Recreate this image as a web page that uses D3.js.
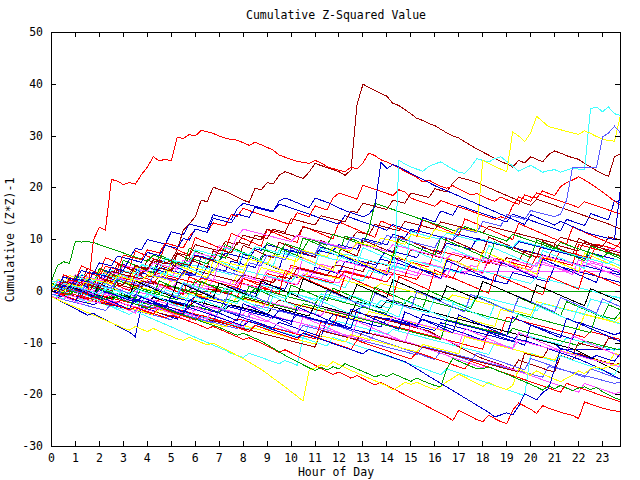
<!DOCTYPE html>
<html><head><meta charset="utf-8">
<script src="https://cdn.jsdelivr.net/npm/d3@7"></script>
<style>html,body{margin:0;padding:0;background:#fff;}svg{display:block;}</style>
</head><body>
<svg id="chart" width="640" height="480"></svg>
<script>
const chartTitle = "Cumulative Z-Squared Value";
const xLabel = "Hour of Day";
const yLabel = "Cumulative (Z*Z)-1";
const xTicks = [0,1,2,3,4,5,6,7,8,9,10,11,12,13,14,15,16,17,18,19,20,21,22,23];
const yTicks = [-30,-20,-10,0,10,20,30,40,50];
const hours = d3.range(96).map(i => i * 0.25);

const s01 = [-0.5,-0.8,-1.1,0.2,-0.1,-0.4,-0.7,-1.0,-1.3,-0.2,-0.5,-0.8,-1.1,-1.4,-1.7,-2.0,-2.3,-1.0,-1.3,-1.6,-1.9,-2.2,-2.5,-2.8,-3.0,-3.3,-1.0,-1.3,-1.6,-1.9,0.8,0.5,0.2,-0.1,-0.4,1.6,1.3,1.0,0.7,0.4,3.0,2.7,2.4,2.1,4.6,4.3,4.0,3.7,3.4,5.8,5.5,5.2,4.9,4.6,4.3,6.5,8.0,7.7,7.4,7.1,6.8,6.5,8.4,8.1,7.8,7.5,9.3,9.0,8.7,8.4,8.1,10.2,10.0,9.7,9.4,9.1,8.8,8.5,8.2,7.9,7.6,7.3,7.0,6.7,6.4,6.1,5.8,5.5,5.2,4.9,4.6,4.3,4.0,3.7,3.4,3.1];
const s02 = [0.0,-0.3,-0.6,-0.9,0.3,0.0,-0.3,-0.6,-0.9,-1.2,-1.5,-0.6,-0.9,-1.2,-1.5,-1.8,-2.1,-2.4,-1.6,-1.9,-2.2,-2.5,-2.8,-3.1,-0.8,-1.1,-1.4,0.4,0.1,-0.2,-0.5,1.8,1.5,1.2,0.9,0.6,0.3,2.4,2.1,1.8,1.5,1.2,3.1,2.8,2.5,2.2,1.9,1.6,4.0,3.7,3.4,3.1,2.8,2.5,4.4,4.1,3.8,3.5,3.2,2.9,2.6,2.3,4.0,3.7,3.4,3.1,2.8,2.5,4.8,4.5,4.2,3.9,3.6,6.1,5.8,5.5,5.2,4.9,4.6,4.3,7.0,6.7,6.4,6.1,5.8,7.9,7.6,7.3,7.0,6.7,6.4,9.1,8.8,8.5,8.2,9.5];
const s03 = [1.0,0.7,0.4,0.1,-0.2,-0.5,0.9,0.6,0.3,0.0,-0.3,-0.6,-0.9,-1.2,0.5,0.2,-0.1,-0.4,-0.7,-1.0,-1.3,-1.6,0.3,0.0,0,0,0,0,0,0,0,0,0,0,0,0,0,0,0,0,0,0,0,0,0,0,0,0,0,0,0,0,0,0,0,0,0,0,0,0,0,0,0,0,0,0,0,0,0,0,0,0,0,0,0,0,0,0,0,0,0,0,0,0,0,0,0,0,0,0,0,0,0,0,0,0];
const s04 = [0.5,0.2,-0.1,-0.4,-0.7,0.8,0.5,0.2,-0.1,-0.4,-0.7,-1.0,0.6,0.3,0.0,-0.3,-0.6,-0.9,0.9,0.6,0.3,0.0,-0.3,-0.6,1.5,1.2,0.9,0.6,0.3,0.0,2.0,1.7,1.4,1.1,0.8,0.5,2.8,2.5,2.2,1.9,1.6,1.3,3.4,3.1,2.8,2.5,2.2,1.9,1.6,4.0,3.7,3.4,3.1,2.8,2.5,2.2,4.5,4.2,3.9,3.6,3.3,3.0,5.6,5.3,5.0,4.7,4.4,4.1,3.8,3.9,3.9,3.9,3.9,3.9,3.9,3.9,3.9,3.9,3.9,3.9,3.9,3.9,3.9,3.9,3.9,3.9,3.9,3.9,3.9,3.9,3.9,3.9,3.9,3.9,3.9,3.9];
const s05 = [-0.5,-0.8,-1.1,-1.4,-1.7,-0.5,-0.8,-1.1,-1.4,-1.7,-2.0,-2.3,-1.0,-1.3,-1.6,-1.9,-2.2,-2.5,-2.8,-3.1,-1.8,-2.1,-2.4,-2.7,-3.0,-3.3,-3.6,-3.9,-4.2,-2.8,-3.1,-3.4,-3.7,-4.0,-4.3,-4.6,-4.9,-5.2,-3.6,-3.9,-4.2,-4.5,-4.8,-5.1,-5.4,-5.7,-6.0,-4.5,-4.8,-5.1,-5.4,-5.7,-6.0,-6.3,-6.6,-6.9,-5.2,-5.5,-5.8,-6.1,-6.4,-6.7,-7.0,-7.3,-7.6,-6.1,-6.4,-6.7,-7.0,-7.3,-7.6,-7.9,-8.2,-8.5,-8.8,-9.1,-9.4,-9.7,-8.2,-8.5,-8.8,-9.1,-9.4,-9.7,-10.0,-11.2,-11.2,-11.2,-11.2,-11.2,-11.2,-11.2,-11.2,-11.2,-11.2,-11.2];
const s06 = [-1.0,-1.3,-1.6,-1.9,-2.2,-1.4,-1.7,-2.0,-2.3,-2.6,-2.9,-3.2,-3.5,-2.7,-3.0,-3.3,-3.6,-3.9,-4.2,-4.5,-4.8,-5.1,-4.0,-4.3,-4.6,-4.9,-5.2,-5.5,-5.8,-6.1,-6.4,-6.7,-7.0,-7.3,-6.6,-6.9,-7.2,-7.5,-7.8,-8.1,-8.4,-8.7,-9.0,-6.5,-6.8,-7.1,-7.4,-5.6,-5.9,-6.2,-6.5,-6.8,-7.1,-7.4,-7.7,-8.0,-8.3,-7.4,-7.7,-8.0,-8.3,-8.6,-8.9,-9.2,-9.5,-9.8,-10.1,-10.4,-10.7,-11.0,-11.3,-11.6,-11.9,-12.2,-10.0,-10.3,-10.6,-10.9,-8.2,-8.5,-8.8,-9.1,-9.4,-9.7,-10.0,-10.3,-9.0,-9.3,-9.6,-9.9,-10.2,-10.5,-10.8,-11.1,-11.4,-11.0];
const s07 = [2.0,1.7,1.4,1.1,0.8,0.5,0.2,1.5,1.2,0.9,0.6,0.3,0.0,-0.3,1.0,0.7,0.4,0.1,-0.2,-0.5,-0.8,-1.1,-1.4,-0.3,-0.6,-0.9,-1.2,-1.5,-1.8,-2.1,-2.4,-1.2,-1.5,-1.8,-2.1,-2.4,-2.7,-3.0,-3.3,-3.6,-3.9,-2.5,-2.8,-3.1,-3.4,-3.7,-4.0,-4.3,-4.6,-4.9,-5.2,-5.5,-5.8,-3.9,-4.2,-4.5,-4.8,-5.1,-5.4,-5.7,-6.0,-6.3,-6.6,-6.9,-7.2,-7.5,-7.8,-8.1,-5.0,-5.3,-5.6,-5.9,-6.2,-6.5,-6.8,-3.5,-3.8,-4.1,-4.4,-4.7,-5.0,-5.3,-5.6,-5.9,-6.2,-6.5,-6.8,-7.1,-7.4,-4.5,-4.8,-5.1,-5.4,-5.7,-6.0,-5.0];
const s08 = [-1.0,-1.3,-1.6,-1.9,-2.2,-2.5,-2.8,-3.1,-3.4,-3.7,-2.5,-2.8,-3.1,-3.4,-3.7,-4.0,-4.3,-4.6,-4.9,-5.2,-5.5,-4.2,-4.5,-4.8,-5.1,-5.4,-5.7,-6.0,-6.3,-6.6,-6.9,-7.2,-5.5,-5.8,-6.1,-6.4,-6.7,-7.0,-7.3,-7.6,-7.9,-8.2,-6.6,-6.9,-7.2,-7.5,-7.8,-8.1,-8.4,-8.7,-9.0,-9.3,-9.6,-9.9,-10.2,-10.5,-10.8,-11.1,-11.4,-11.7,-12.0,-12.3,-10.6,-10.9,-11.2,-11.5,-11.8,-12.1,-12.4,-12.7,-13.0,-13.3,-13.6,-13.9,-14.2,-14.5,-14.8,-15.1,-15.4,-15.7,-16.0,-16.3,-16.6,-14.5,-14.8,-15.1,-15.4,-15.7,-16.0,-16.3,-16.6,-16.9,-17.2,-17.5,-17.8,-17.5];
const s09 = [1.0,0.7,0.4,0.1,1.6,1.3,1.0,0.7,0.4,0.1,2.3,2.0,1.7,1.4,1.1,0.8,2.0,1.7,1.4,1.1,0.8,0.5,0.2,-0.1,-0.4,-0.7,0.5,0.2,-0.1,-0.4,-0.7,-1.0,-1.3,-1.6,-1.9,-2.2,-2.5,-2.8,-1.7,-2.0,-2.3,-2.6,-2.9,-3.2,-3.5,-3.8,-4.1,-4.4,-4.7,-5.0,-3.8,-4.1,-4.4,-4.7,-5.0,-5.3,-5.6,-5.9,-6.2,-6.5,-6.8,-7.1,-7.4,-7.7,-8.3,-8.9,-9.5,-10.1,-10.7,-11.3,-11.9,-12.5,-13.0,-13.4,-13.8,-14.2,-14.6,-15.0,-13.3,-13.7,-14.1,-14.5,-14.9,-15.3,-15.6,-12.4,-12.8,-13.2,-12.0,-12.4,-12.8,-13.2,-13.5,-13.8,-14.1,-14.0];
const s10 = [0.0,-0.3,-0.6,-0.9,0.4,0.1,-0.2,-0.5,-0.8,-1.1,-1.4,-0.6,-0.9,-1.2,-1.5,-1.8,-2.1,-1.2,-1.5,-1.8,-2.1,-2.4,-2.7,-3.0,-1.9,-2.2,-2.5,-2.8,-3.1,-3.4,-2.6,-2.9,-3.2,-3.5,-3.8,-4.1,-4.4,-3.0,-3.3,-3.6,-3.9,-4.2,-4.5,-4.8,-2.6,-2.9,-3.2,-3.5,-3.8,-4.1,-4.4,-2.0,-2.3,-2.6,-2.9,-3.2,-1.8,-2.1,-2.4,-2.7,-3.0,-3.3,-3.6,-3.9,-4.2,-4.5,-4.8,-5.1,-5.4,-5.7,-6.0,-6.3,-6.6,-6.9,-7.2,-7.5,-7.8,-8.1,-8.4,-8.7,-9.0,-9.3,-9.6,-9.9,-10.2,-10.5,-10.8,-11.1,-11.6,-12.2,-12.8,-13.4,-14.0,-14.6,-15.2,-15.8];
const s11 = [0.5,0.2,-0.1,-0.4,-0.7,-1.0,-1.3,-0.4,-0.7,-1.0,-1.3,-1.6,-1.9,-2.2,-2.5,-2.8,-3.1,-3.4,-2.6,-2.9,-3.2,-3.5,-3.8,-4.1,-4.4,-4.7,-5.0,-5.3,-5.6,-5.9,-6.2,-5.3,-5.6,-5.9,-6.2,-6.5,-6.8,-7.1,-7.4,-7.7,-8.0,-8.3,-8.6,-8.9,-9.2,-6.0,-6.3,-6.6,-4.0,-4.3,-4.6,-4.9,-5.2,-5.5,-5.8,-6.1,-6.4,-6.7,-7.0,-7.3,-7.6,-7.9,-8.2,-8.5,-8.8,-9.1,-9.4,-9.7,-10.0,-10.3,-10.6,-10.9,-11.2,-7.5,-7.8,-8.1,-5.0,-5.3,-5.6,-5.9,-6.2,-6.5,-6.8,-7.1,-7.4,-7.7,-8.0,-8.3,-8.6,-8.9,-7.8,-8.1,-8.4,-8.7,-9.0,-9.3];
const s12 = [0.0,0.9,0.6,0.3,0.0,-0.3,-0.6,-0.9,-1.2,-1.5,-1.8,-1.0,-1.3,-1.6,-1.9,-2.2,-2.5,-2.8,-3.1,-3.4,-3.7,-4.0,-4.3,-2.6,-2.9,-3.2,-3.5,-3.8,-4.1,-1.5,-1.8,-2.1,-1.0,-1.3,-1.6,-1.9,-2.2,-2.5,-2.8,-3.1,-3.4,-3.7,-2.4,-2.7,-3.0,-3.3,-3.6,-3.9,-4.2,-4.5,-4.8,-5.1,-5.4,-5.7,-6.0,-6.3,-6.6,-6.9,-7.2,-7.5,-7.8,-8.1,-8.4,-8.7,-9.0,-9.3,-5.5,-5.8,-6.1,-6.4,-6.7,-7.0,-7.3,-7.6,-7.9,-8.2,-8.5,-7.2,-7.5,-7.8,-8.1,-8.4,-8.7,-9.0,-9.3,-9.6,-9.9,-10.2,-10.5,-9.6,-9.9,-10.2,-10.5,-10.8,-11.1,-11.4];
const s13 = [-1.0,-1.6,-2.2,-2.8,-3.4,-4.0,-4.6,-4.3,-4.9,-5.5,-6.1,-6.7,-7.3,-7.9,-8.8,-3.0,-3.4,-3.8,-4.2,-4.6,-5.0,-5.4,-3.8,-4.2,-4.6,-5.0,-5.4,-5.8,-3.5,-3.9,-4.3,-4.7,-5.1,-5.5,-5.9,-6.3,-6.7,-7.1,-6.0,-6.4,-6.8,-7.2,-7.6,-8.0,-8.4,-8.8,-5.5,-5.9,-6.3,-6.7,-7.1,-3.5,-3.0,-3.4,-3.8,-4.2,-4.6,-5.0,-5.4,-5.8,-6.2,-6.6,-5.4,-5.8,-6.2,-6.6,-7.0,-7.4,-7.8,-8.2,-8.6,-9.0,-9.4,-8.0,-8.4,-8.8,-9.2,-9.6,-10.0,-10.4,-6.5,-6.9,-7.3,-7.7,-8.1,-8.5,-8.9,-9.3,-6.0,-6.4,-6.8,-7.2,-7.6,-8.0,-8.4,-8.0];
const s14 = [0.5,0.2,-0.1,-0.4,-0.7,-1.0,0.2,-0.1,-0.4,-0.7,-1.0,-1.3,-1.6,-1.9,-0.8,-1.1,-1.4,-1.7,-2.0,-2.3,-2.6,-2.9,-3.2,-3.5,-3.8,-2.6,-2.9,-3.2,-3.5,-3.8,-4.1,-4.4,-4.7,-5.0,-5.3,-5.6,-5.9,-4.8,-5.1,-5.4,-5.7,-6.0,-6.3,-6.6,-6.9,-7.2,-7.5,-7.8,-8.1,-8.4,-8.7,-9.0,-9.3,-9.6,-8.2,-8.5,-8.8,-9.1,-9.4,-9.7,-10.0,-10.4,-10.8,-11.2,-11.6,-12.0,-12.4,-12.8,-13.2,-13.6,-14.0,-14.4,-14.8,-13.5,-13.9,-14.3,-14.7,-15.1,-15.5,-15.9,-16.3,-16.7,-17.1,-17.5,-17.9,-18.3,-18.7,-19.1,-19.5,-17.8,-18.2,-18.6,-19.0,-19.4,-19.8,-19.5];
const s15 = [0.0,-0.5,-1.0,-0.6,-1.1,-1.6,-2.1,-1.5,-2.0,-2.5,-3.0,-3.5,-4.0,-4.5,-3.9,-4.4,-4.9,-5.4,-5.9,-6.4,-6.9,-7.4,-7.9,-8.4,-8.9,-9.4,-9.9,-10.4,-10.9,-11.4,-12.0,-12.4,-12.8,-12.0,-12.4,-12.8,-13.2,-13.6,-14.0,-13.4,-13.8,-14.3,-9.0,-9.4,-9.8,-10.2,-10.6,-8.9,-9.3,-9.7,-10.1,-10.5,-10.9,-11.3,-11.7,-12.1,-12.5,-12.9,-13.3,-13.7,-14.1,-14.5,-14.9,-15.3,-15.7,-16.1,-15.0,-15.4,-15.8,-16.2,-16.6,-17.0,-17.4,-17.8,-18.2,-18.6,-19.0,-19.4,-19.8,-20.2,-12.0,-12.4,-12.8,-13.2,-13.6,-12.5,-12.9,-13.3,-13.7,-14.1,-14.5,-14.9,-15.3,-15.7,-16.1,-14.0];
const s16 = [1.0,2.3,2.0,1.7,1.4,1.1,2.6,2.3,2.0,1.7,1.4,3.3,3.0,2.7,2.4,2.1,1.8,1.5,1.2,0.9,2.1,1.8,1.5,1.2,0.9,0.6,2.2,1.9,1.6,1.3,1.0,3.1,2.8,2.5,2.2,4.6,4.3,4.0,3.7,3.4,3.1,2.8,2.5,3.9,3.6,3.3,3.0,2.7,2.4,2.1,1.8,1.5,1.2,0.9,0.6,1.5,1.2,0.9,0.6,0.3,0.0,-0.3,-0.6,-0.9,-1.2,-1.5,-1.8,-0.7,-1.0,-1.3,-1.6,-1.9,-2.2,-2.5,-2.8,-3.1,-3.4,-3.7,-4.0,-4.3,-4.6,-2.0,-2.3,-2.6,-2.9,-3.2,-3.5,-3.8,-4.1,-4.4,-4.7,-5.0,-5.3,-5.6,-5.9,-6.2];
const s17 = [0.5,0.2,-0.1,-0.4,-0.7,-1.0,-1.3,-1.6,-1.9,-2.2,-2.5,-2.8,-3.1,-3.4,-3.7,-2.6,-2.9,-3.2,-3.5,-3.8,-4.1,-4.4,-4.7,-5.0,-5.3,-5.6,-5.9,-6.2,-3.5,-3.8,-4.1,-4.4,-4.7,-5.0,-2.6,-2.9,-3.2,-3.5,-3.8,-4.1,-4.4,-4.7,-5.0,-5.3,-5.6,-5.9,-6.2,-6.5,-6.8,-7.2,-7.6,-8.0,-8.4,-8.8,-9.2,-9.6,-10.0,-10.4,-10.8,-11.2,-11.6,-12.0,-12.4,-12.8,-13.2,-11.5,-11.9,-12.3,-12.7,-13.1,-13.5,-12.0,-12.4,-12.8,-13.2,-13.6,-14.0,-14.4,-14.8,-15.2,-13.0,-13.4,-13.8,-14.2,-14.6,-15.0,-15.4,-15.8,-16.2,-16.6,-15.0,-15.4,-15.8,-16.2,-16.6,-17.0];
const s18 = [-1.0,-1.3,-0.4,-0.7,-1.0,-1.3,-1.6,-1.9,-2.2,-2.5,-1.8,-2.1,-2.4,-2.7,-3.0,-3.3,-3.6,-3.9,-4.2,-4.5,-4.8,-5.1,-4.2,-4.5,-4.8,-5.1,-5.4,-5.7,-6.0,-6.3,-6.6,-6.9,-7.2,-7.5,-7.8,-8.1,-8.4,-8.7,-9.0,-9.3,-9.6,-9.9,-10.2,-10.5,-10.8,-7.6,-7.9,-8.2,-8.5,-8.8,-9.1,-9.4,-7.8,-8.1,-8.4,-8.7,-9.0,-9.3,-9.6,-9.9,-10.2,-10.5,-10.8,-11.1,-11.4,-11.7,-12.0,-12.3,-12.6,-12.9,-13.2,-13.5,-13.8,-14.1,-14.4,-14.7,-15.0,-15.3,-15.6,-12.0,-12.3,-12.6,-12.9,-11.0,-11.3,-11.6,-11.9,-12.2,-10.0,-10.3,-10.6,-10.9,-11.2,-9.0,-9.3,-9.6];
const s19 = [2.0,1.7,1.4,1.1,2.5,2.2,1.9,1.6,1.3,3.0,2.7,2.4,4.0,3.7,3.4,3.1,4.6,4.3,4.0,3.7,5.5,5.2,4.9,4.6,7.0,6.7,6.4,6.1,5.8,7.4,7.1,6.8,6.5,6.2,8.2,7.9,9.0,8.7,8.4,8.1,7.8,7.5,7.2,6.9,6.6,7.8,7.5,7.2,6.9,6.6,6.3,6.0,5.7,5.4,5.1,6.2,5.9,5.6,5.3,5.0,4.7,4.4,4.1,3.8,3.5,3.2,4.4,4.1,3.8,3.5,3.2,2.9,2.6,2.3,2.0,1.7,1.4,3.6,3.3,3.0,2.7,2.4,2.1,1.8,5.0,4.7,4.4,4.1,3.8,3.5,3.2,2.9,2.6,2.3,2.0,1.7];
const s20 = [1.0,0.7,0.4,1.8,1.5,1.2,2.6,2.3,2.0,1.7,3.1,2.8,2.5,2.2,1.9,3.7,4.0,3.7,3.4,3.1,2.8,2.5,2.2,1.9,1.6,2.5,2.2,1.9,1.6,1.3,1.0,0.7,2.4,2.1,1.8,1.5,3.4,3.1,2.8,2.5,5.0,4.7,4.4,4.1,3.8,3.5,3.2,2.9,2.6,3.9,3.6,3.3,3.0,2.7,2.4,2.1,1.8,3.5,3.2,2.9,5.6,5.3,5.0,4.7,8.0,7.7,7.4,7.1,6.8,6.5,6.2,5.9,5.6,5.3,6.4,6.1,5.8,5.5,5.2,4.9,4.6,6.8,6.5,6.2,5.9,5.6,5.3,5.0,9.0,8.7,8.4,8.1,7.8,7.5,7.2,6.9];
const s21 = [1.5,1.2,0.9,0.6,0.3,0.0,-0.3,-0.6,0.4,0.1,-0.2,-0.5,-0.8,-1.1,-1.4,0.5,0.2,-0.1,-0.4,1.3,1.0,0.7,0.4,0.1,2.0,1.7,1.4,1.1,0.8,0.5,0.2,-0.1,-0.4,-0.7,0.6,0.3,0.0,-0.3,-0.6,-0.9,-1.2,-1.5,-1.8,-2.1,-2.4,-1.0,-1.3,-1.6,-1.9,-2.2,-2.5,-2.8,-3.1,-3.4,-3.7,-4.0,-4.3,-1.8,-2.1,-2.4,-1.0,-1.3,-1.6,-1.9,-2.2,-2.5,-2.8,-3.1,-3.4,-3.7,-4.0,-4.3,-4.6,-4.9,-5.2,-5.5,-5.8,-6.1,-4.4,-4.7,-5.0,-5.3,-5.6,-5.9,-6.2,-6.5,-6.8,-7.1,-7.4,-7.7,-8.0,-4.5,-4.8,-5.1,-5.4,-4.0];
const s22 = [0.0,-0.3,1.2,0.9,0.6,0.3,1.8,1.5,1.2,2.6,2.3,2.0,3.0,2.7,2.4,2.1,1.8,1.5,1.2,0.9,0.6,1.7,1.4,1.1,1.0,0.7,0.4,2.3,2.0,1.7,1.4,1.1,2.8,2.5,2.2,1.9,4.0,3.7,3.4,3.1,4.6,4.3,4.0,3.7,3.4,5.2,4.9,4.6,6.0,5.7,5.4,5.1,4.8,4.5,4.2,3.9,3.6,4.8,4.5,4.2,3.9,3.6,3.3,3.0,2.7,2.4,4.2,3.9,3.6,3.3,5.0,4.7,6.5,6.2,5.9,5.6,5.3,5.0,4.7,4.4,4.1,5.5,5.2,4.9,4.6,4.3,4.0,3.7,3.4,6.1,5.8,5.5,5.2,8.3,8.0,7.7];
const s23 = [2.0,1.7,1.4,1.1,0.8,0.5,1.6,1.3,1.0,0.7,0.4,0.1,0.0,-0.3,-0.6,-0.9,-1.2,0.3,0.0,-0.3,-0.6,-0.9,-1.2,-1.5,-1.8,-2.1,-0.9,-1.2,-1.5,-1.8,-2.1,-2.4,-0.5,-0.8,-1.1,1.2,0.9,0.6,0.3,0.0,-0.3,-0.6,-0.9,-1.2,-1.5,-1.8,-0.6,-0.9,-1.2,-1.5,-1.8,-2.1,-2.4,-2.7,-3.0,-1.8,-2.1,-2.4,-2.7,-3.0,-3.3,-3.6,-3.9,-4.2,-1.2,-1.5,-1.8,-2.1,-2.4,-2.7,-3.0,-0.8,-1.1,-1.4,-1.7,-2.0,-2.3,-2.6,-2.9,-3.2,-3.5,-3.8,-2.4,-2.7,-3.0,-3.3,-3.6,-3.9,-4.2,-4.5,-1.5,-1.8,-2.1,-2.4,-1.0,-1.3];
const s24 = [-0.5,-0.8,-1.1,-1.4,-1.7,-2.0,-2.3,-1.5,-1.8,-2.1,-2.4,-2.7,-3.0,-3.3,-3.6,-3.9,-4.2,-4.5,-3.6,-3.9,-4.2,-4.5,-4.8,-5.1,-5.4,-5.7,-6.0,-6.3,-6.6,-6.9,-6.0,-6.3,-6.6,-6.9,-7.2,-7.5,-7.8,-8.1,-8.4,-8.7,-9.0,-9.3,-9.6,-9.9,-10.2,-8.6,-8.9,-9.2,-9.5,-9.8,-8.4,-8.7,-9.0,-9.3,-9.6,-9.9,-10.2,-10.5,-10.8,-11.1,-11.4,-11.7,-10.3,-10.6,-10.9,-11.2,-11.5,-11.8,-12.1,-8.8,-9.1,-9.4,-9.7,-10.0,-10.3,-10.6,-10.9,-11.2,-11.5,-11.8,-12.1,-12.4,-12.7,-13.0,-13.3,-11.5,-11.8,-12.1,-12.4,-12.7,-13.0,-13.3,-13.6,-13.9,-12.0,-12.3];
const s25 = [-0.5,-0.8,-1.1,-1.4,-1.7,-2.0,-2.3,-2.6,-2.0,-2.3,-2.6,-2.9,-3.2,-3.5,-1.5,-1.8,-2.1,-2.4,-2.7,-3.0,-1.0,-1.3,-1.6,-1.9,-1.0,-1.3,-1.6,-1.9,-2.2,-2.5,-2.8,-3.1,-3.4,-3.7,-4.0,-4.3,-4.6,-4.9,-5.2,-5.5,-5.8,-4.6,-4.9,-5.2,-5.5,-5.8,-6.1,-6.4,-6.7,-7.0,-7.3,-7.6,-7.9,-8.2,-4.8,-5.1,-5.4,-5.7,-6.0,-6.3,-6.6,-6.9,-4.5,-4.8,-5.1,-5.4,-5.7,-6.0,-6.3,-6.6,-6.9,-7.2,-7.5,-7.8,-8.1,-8.4,-8.7,-9.0,-9.3,-9.6,-9.9,-10.3,-10.7,-11.1,-11.5,-11.9,-12.3,-12.7,-13.1,-13.6,-14.1,-14.6,-15.2,-15.8,-16.4,-17.0];
const s26 = [0.0,-0.4,-0.8,-1.2,-1.6,-0.8,-1.2,-1.6,-2.0,-2.4,-2.8,-2.0,-2.4,-2.8,-3.2,-3.6,-4.0,-4.4,-3.2,-3.6,-4.0,-4.4,-4.8,-5.2,-5.6,-4.6,-5.0,-5.4,-5.8,-6.2,-6.6,-7.0,-7.4,-7.8,-6.6,-7.0,-7.4,-7.8,-8.2,-8.6,-9.0,-9.4,-8.0,-8.4,-8.8,-9.2,-9.6,-10.0,-10.4,-10.8,-11.2,-9.5,-9.9,-10.3,-10.7,-11.1,-11.5,-11.9,-12.3,-12.7,-13.1,-11.8,-12.2,-12.6,-13.0,-13.4,-13.8,-14.2,-14.6,-15.0,-13.5,-13.9,-14.3,-14.7,-15.1,-15.5,-15.9,-16.3,-16.7,-17.1,-17.5,-17.9,-18.3,-18.7,-19.1,-19.5,-17.8,-18.2,-18.6,-19.0,-19.4,-19.8,-20.2,-20.6,-21.0,-21.4];
const s27 = [0.0,-0.3,0.8,0.5,0.2,-0.1,-0.4,1.0,0.7,0.4,0.1,1.3,1.0,0.7,0.4,2.0,1.7,1.4,3.0,2.7,2.4,2.1,3.8,3.5,4.0,3.7,3.4,3.1,2.8,2.5,2.2,1.9,3.2,2.9,2.6,2.3,2.0,1.7,3.0,2.7,2.4,4.5,4.2,3.9,3.6,3.3,3.0,4.8,5.0,4.7,4.4,4.1,3.8,5.9,5.6,5.3,5.0,6.6,6.3,6.0,8.0,7.7,7.4,7.1,6.8,6.5,6.2,5.9,5.6,6.8,6.5,6.2,5.9,5.6,5.3,5.0,6.5,6.2,5.9,7.8,7.5,7.2,6.9,6.6,9.0,8.7,8.4,8.1,7.8,9.5,9.2,8.9,8.6,10.5,10.2,9.9];
const s28 = [1.0,0.7,2.0,1.7,1.4,3.1,2.8,2.5,2.2,4.0,3.7,3.4,5.0,4.7,4.4,4.1,3.8,3.5,4.6,4.3,4.0,3.7,3.4,3.1,3.0,2.7,4.8,4.5,4.2,3.9,5.8,5.5,5.2,4.9,4.6,6.6,7.0,6.7,6.4,6.1,7.9,7.6,7.3,7.0,6.7,8.5,8.2,7.9,9.0,8.7,8.4,8.1,10.2,9.9,9.6,9.3,9.0,11.0,10.7,10.4,12.0,11.7,11.4,11.1,10.8,10.5,10.2,9.9,11.0,10.7,10.4,10.1,9.8,9.5,9.2,8.9,8.6,8.3,9.6,9.3,9.0,8.7,8.4,8.1,7.8,7.5,7.2,6.9,6.6,6.3,7.4,7.1,6.8,6.5,6.2,5.9];
const s29 = [-0.5,-0.8,0.6,0.3,0.0,1.4,1.1,0.8,0.5,0.2,2.1,1.8,2.0,1.7,3.0,2.7,2.4,4.0,3.7,3.4,3.1,2.8,5.1,4.8,5.0,4.7,4.4,4.1,3.8,3.5,3.2,4.4,4.1,3.8,3.5,3.2,3.0,2.7,2.4,2.1,1.8,3.2,2.9,2.6,2.3,2.0,1.7,1.4,1.0,0.7,2.6,2.3,2.0,4.0,3.7,3.4,3.1,5.0,4.7,4.4,6.0,5.7,5.4,5.1,4.8,4.5,4.2,3.9,3.6,4.8,4.5,4.2,3.9,3.6,3.3,3.0,2.7,2.4,2.1,1.8,1.5,2.8,2.5,2.2,1.9,1.6,1.3,1.0,0.7,0.4,0.1,-0.2,-0.5,-0.8,-1.1,-1.4];
const s30 = [-1.0,-1.3,-1.6,-0.8,-1.1,-1.4,-1.7,-2.0,-2.3,-1.5,-1.8,-2.1,-2.4,-2.7,-3.0,-3.3,-3.6,-3.9,-3.0,-3.3,-3.6,-3.9,-4.2,-4.5,-4.8,-5.1,-5.4,-3.0,-3.3,-3.6,-3.9,-4.2,-4.5,-2.8,-3.1,-3.4,-2.0,-2.3,-2.6,-2.9,-3.2,-3.5,-3.8,-4.1,-4.4,-4.7,-3.4,-3.7,-4.0,-4.3,-4.6,-4.9,-5.2,-5.5,-5.8,-6.1,-6.4,-5.0,-5.3,-5.6,-5.9,-6.2,-6.5,-6.8,-7.1,-7.4,-7.7,-8.0,-8.3,-8.6,-8.9,-9.2,-9.5,-9.8,-10.1,-10.4,-10.7,-11.0,-9.5,-9.8,-10.1,-10.4,-10.7,-11.0,-11.3,-11.6,-11.9,-12.2,-12.5,-12.8,-13.1,-13.4,-13.7,-14.0,-14.3,-14.6];
const s31 = [0.0,1.3,1.0,0.7,2.0,1.7,1.4,1.1,3.2,2.9,2.6,4.1,3.8,3.5,5.0,4.7,4.4,6.2,5.9,5.6,5.3,7.4,7.1,6.8,9.0,8.7,8.4,8.1,7.8,9.6,9.3,9.0,10.8,10.5,10.2,9.9,12.0,11.7,11.4,11.1,10.8,10.5,12.4,12.1,11.8,11.5,11.2,10.9,10.6,10.3,10.0,11.5,11.2,10.9,12.9,12.6,12.3,12.0,11.7,13.5,13.2,12.9,12.6,12.3,12.0,13.4,13.1,12.8,12.5,12.2,11.9,11.6,11.3,12.6,12.3,12.0,11.7,11.4,11.1,10.8,10.5,10.2,9.9,9.6,9.3,10.4,10.1,9.8,9.5,9.2,8.9,8.6,8.3,8.0,7.7,7.4];
const s32 = [1.0,0.7,2.8,2.5,2.2,4.0,3.7,3.4,5.5,5.2,4.9,6.8,6.5,6.2,8.3,8.0,10.0,9.7,9.4,9.1,11.5,11.2,10.9,13.0,12.7,12.4,12.1,14.8,14.5,14.2,13.9,15.9,17.0,16.7,16.4,16.1,15.8,15.5,16.8,16.5,16.1,15.7,15.3,14.9,14.5,14.1,13.7,13.3,13.0,14.6,14.2,13.8,13.4,13.0,12.6,12.2,11.8,12.9,12.5,12.1,11.7,11.3,14.2,13.8,13.4,15.5,15.1,14.7,16.6,16.2,15.8,15.4,15.0,14.6,14.2,13.8,13.4,14.9,14.5,14.1,13.7,13.3,12.9,12.5,12.1,11.7,13.9,13.5,13.1,12.7,15.0,14.6,14.2,13.8,17.5,17.1];
const s33 = [2.0,5.0,5.7,5.4,9.7,9.5,9.6,9.4,9.0,8.6,8.2,7.8,7.4,7.0,6.6,6.2,5.8,7.0,6.6,6.2,5.8,5.4,5.0,6.5,6.1,5.7,5.3,7.2,6.8,6.4,8.1,7.7,7.3,6.9,8.6,8.2,7.8,7.4,7.0,9.2,8.8,8.4,8.0,10.1,9.7,9.3,8.9,11.0,10.6,10.2,9.8,9.4,9.0,12.0,17.0,16.6,16.2,15.8,15.4,15.0,14.6,14.2,13.8,13.4,13.0,12.6,12.2,11.8,11.4,12.5,12.1,11.7,11.3,10.9,10.5,10.1,9.7,11.0,10.6,10.2,9.8,9.4,9.0,8.6,8.2,9.4,9.0,8.6,8.2,7.8,7.4,7.0,6.6,7.5,7.1,6.7];
const s34 = [1.0,0.7,0.4,1.9,1.6,1.3,2.8,2.5,2.2,1.9,3.6,3.3,5.0,4.7,4.4,4.1,3.8,5.5,5.2,4.9,4.6,4.3,6.0,5.7,7.5,7.2,6.9,6.6,8.8,8.5,8.2,10.6,12.0,11.7,11.4,11.1,10.8,10.5,10.2,9.9,9.6,10.8,10.5,10.2,9.9,9.6,9.3,9.0,8.7,8.4,8.1,9.2,8.9,8.6,8.3,8.0,7.7,9.0,8.7,8.4,8.1,7.8,7.5,7.2,6.9,6.6,6.3,7.5,7.2,6.9,6.6,6.3,6.0,5.7,5.4,5.1,4.8,6.0,5.7,5.4,5.1,4.8,6.9,6.6,6.3,6.0,5.7,5.4,5.1,4.8,5.5,5.2,4.9,4.6,4.3,4.0];
const s35 = [0.5,0.2,1.6,1.3,1.0,2.5,2.2,1.9,3.4,3.1,2.8,2.5,4.0,3.7,3.4,5.2,4.9,4.6,4.3,6.4,6.1,5.8,5.5,5.2,8.0,7.7,7.4,7.1,6.8,8.3,8.0,7.7,7.4,7.1,8.6,8.3,8.0,7.7,7.4,7.1,6.8,8.0,7.7,7.4,7.1,6.8,6.5,6.2,6.0,7.2,6.9,6.6,6.3,6.0,5.7,5.4,5.1,4.8,4.5,4.2,11.5,11.2,10.9,10.6,10.3,10.0,11.2,10.9,10.6,10.3,10.0,9.7,10.0,9.7,9.4,9.1,8.8,8.5,9.8,9.5,9.2,8.9,8.6,8.3,8.0,7.7,7.4,7.1,6.8,6.5,6.2,5.9,5.6,5.3,6.2,5.9];
const s36 = [-0.5,-0.8,0.6,0.3,0.0,1.5,1.2,0.9,0.6,2.2,1.9,1.6,1.3,3.0,2.7,2.4,3.0,2.7,4.5,4.2,3.9,5.6,5.3,5.0,6.8,6.5,6.2,5.9,8.0,7.7,7.4,9.5,9.2,8.9,10.8,10.5,10.2,12.0,11.7,11.4,14.0,13.7,13.4,13.1,12.8,14.6,14.3,14.0,13.7,13.4,15.5,15.2,17.0,16.7,16.4,16.1,15.8,17.6,17.3,17.0,19.0,18.7,18.4,18.1,19.8,19.5,19.2,20.9,22.0,21.7,21.4,21.0,20.5,20.0,19.5,19.0,18.5,18.0,17.5,17.0,16.6,17.8,17.4,17.0,16.6,16.2,15.8,15.4,15.0,14.6,14.2,13.8,13.4,13.0,12.5,12.0];
const s37 = [1.0,0.7,0.4,2.2,1.9,1.6,3.5,3.2,2.9,4.8,4.5,4.2,7.0,6.7,6.4,6.1,8.0,7.7,7.4,9.3,9.0,8.7,8.4,10.5,12.0,11.7,11.4,13.2,12.9,12.6,14.8,14.5,16.0,15.6,15.2,14.8,14.4,14.0,13.6,13.2,13.0,15.2,14.8,14.4,16.5,16.1,15.7,18.0,19.0,18.6,18.2,17.8,20.5,20.1,19.7,19.3,18.9,18.5,19.6,19.2,18.0,17.6,17.2,16.8,16.4,17.5,17.1,16.7,16.3,15.9,15.5,15.1,14.7,14.3,13.9,14.4,14.0,16.5,18.2,17.8,17.4,19.0,18.6,18.2,17.8,17.4,17.0,16.6,16.2,17.3,16.9,16.5,16.1,15.7,15.3,15.0];
const s38 = [0.0,-0.4,-0.8,-0.3,-0.7,-1.1,-1.5,-1.2,-1.6,-2.0,-2.4,-2.8,-3.2,-3.6,-3.1,-3.5,-3.9,-4.3,-4.7,-5.1,-4.6,-5.0,-5.4,-5.8,-6.2,-6.7,-7.2,-6.8,-7.3,-7.8,-8.3,-8.8,-9.3,-9.0,-9.5,-10.0,-10.6,-11.2,-11.8,-11.3,-11.9,-12.5,-13.1,-13.7,-14.3,-14.9,-15.5,-16.1,-15.6,-16.2,-16.8,-16.3,-16.9,-17.5,-18.1,-17.6,-18.2,-18.8,-19.4,-20.0,-20.6,-21.2,-21.8,-22.4,-23.0,-23.6,-24.2,-25.0,-23.0,-23.6,-24.2,-24.8,-25.2,-24.0,-24.6,-25.2,-25.6,-23.0,-21.6,-22.2,-22.8,-23.6,-22.1,-22.6,-23.0,-23.4,-23.7,-24.0,-24.6,-21.4,-21.8,-22.2,-22.6,-22.9,-23.1,-23.3];
const s39 = [-1.1,-1.6,-2.1,-2.6,-3.1,-3.6,-4.1,-4.6,-5.1,-5.6,-6.1,-6.6,-7.1,-7.5,-6.8,-7.3,-7.8,-7.2,-7.7,-8.2,-8.7,-9.2,-9.5,-8.9,-9.4,-9.9,-10.4,-10.0,-10.6,-11.2,-11.8,-12.4,-13.0,-13.7,-14.4,-15.1,-15.9,-16.8,-17.6,-18.5,-19.4,-20.3,-21.2,-15.3,-14.8,-14.2,-14.6,-13.6,-14.2,-14.7,-15.3,-15.8,-16.3,-16.8,-17.3,-17.8,-18.3,-19.1,-18.4,-17.6,-18.0,-17.6,-18.1,-18.6,-19.0,-18.4,-17.5,-16.8,-16.0,-16.6,-17.2,-17.8,-18.4,-17.6,-18.2,-18.6,-19.0,-18.2,-15.0,-15.6,-16.2,-15.4,-16.0,-16.5,-17.0,-17.5,-16.8,-16.2,-15.4,-15.9,-15.0,-14.6,-15.0,-14.5,-14.2,-14.0];
const s40 = [0.5,0.1,-0.3,-0.7,0.4,0.0,-0.4,-0.8,-1.2,-1.6,-0.9,-1.3,-1.7,-2.1,-2.5,-2.9,-3.3,-2.6,-3.0,-3.4,-3.8,-4.2,-4.6,-5.0,-5.4,-5.8,-6.2,-6.6,-7.0,-7.5,-8.0,-8.5,-8.1,-8.6,-9.1,-9.6,-10.3,-11.0,-11.7,-12.4,-13.0,-13.6,-14.2,-14.8,-15.3,-14.7,-15.2,-14.6,-15.0,-14.0,-14.5,-15.0,-15.5,-16.0,-16.6,-16.1,-16.5,-15.9,-16.4,-16.9,-17.4,-16.8,-17.3,-17.8,-18.2,-18.5,-15.0,-13.0,-13.5,-14.0,-14.5,-15.0,-15.0,-14.6,-15.1,-15.6,-16.0,-16.5,-17.0,-17.5,-18.0,-18.5,-19.1,-18.3,-18.8,-18.2,-18.7,-19.2,-18.7,-18.5,-19.0,-18.6,-19.4,-20.0,-20.6,-21.0];
const s41 = [0.5,0.1,1.2,0.8,0.4,0.0,-0.4,-0.8,0.3,-0.1,-0.5,-0.9,-1.3,-1.7,-2.1,-1.2,-1.6,-2.0,-2.4,-2.8,-3.2,-3.6,-4.0,-3.1,-3.5,-3.9,-4.3,-4.7,-5.1,-5.5,-5.9,-6.3,-6.7,-5.8,-6.2,-6.6,-7.0,-7.4,-7.8,-8.2,-8.6,-9.0,-8.1,-8.5,-8.9,-9.3,-9.7,-10.1,-10.5,-10.9,-11.3,-11.7,-12.1,-11.2,-11.6,-12.0,-12.4,-12.8,-13.2,-13.6,-14.3,-15.0,-15.7,-16.4,-17.1,-17.8,-18.5,-19.2,-19.9,-20.6,-21.3,-22.0,-22.7,-23.4,-24.3,-23.9,-23.5,-23.9,-22.2,-19.8,-20.4,-21.0,-19.6,-18.8,-15.0,-11.0,-11.4,-11.8,-12.2,-12.6,-13.0,-12.4,-12.8,-13.2,-13.5,-12.0];
const s42 = [0.5,0.2,1.8,1.5,1.2,0.9,2.6,2.3,2.0,1.7,3.9,3.6,3.2,2.9,4.8,4.5,4.2,5.9,5.6,5.3,6.0,8.0,11.8,13.0,14.4,17.6,17.3,20.1,19.7,19.3,18.8,18.2,17.6,17.2,19.9,19.6,21.0,20.7,22.4,23.1,22.7,22.2,21.8,23.0,24.7,24.3,23.9,23.5,23.1,22.4,23.4,36.0,40.0,39.4,38.8,38.2,37.7,36.3,35.9,35.1,34.3,33.4,33.0,32.4,32.0,31.3,30.6,30.0,29.6,28.9,28.2,27.5,26.9,26.3,25.7,25.1,24.6,24.0,25.3,24.8,26.0,25.5,25.0,26.4,27.1,26.7,26.2,25.8,25.5,24.7,24.0,23.3,22.7,22.2,26.0,26.6];
const s43 = [0.0,-0.3,-0.6,0.4,0.1,-0.3,-0.7,9.9,12.4,11.8,21.6,21.3,20.6,21.0,20.7,22.5,24.0,26.0,25.2,25.5,25.2,29.8,29.5,30.3,30.0,31.1,30.8,30.5,30.0,29.6,29.3,29.2,28.7,28.2,28.8,28.3,27.8,27.3,26.3,25.9,25.5,25.1,24.9,24.7,25.3,24.8,24.1,23.7,23.4,23.1,24.0,23.6,24.8,26.7,26.2,25.4,25.0,24.4,23.8,23.2,22.6,22.0,21.1,21.5,20.8,20.3,19.9,20.4,19.8,19.2,18.6,18.9,18.3,17.8,17.4,18.2,17.7,17.2,16.8,18.6,18.2,18.0,19.4,18.9,18.5,20.2,21.0,21.5,22.1,21.5,20.8,20.0,19.2,18.3,17.4,16.6];
const s44 = [1.0,0.7,0.4,1.3,1.0,0.6,0.2,-0.2,-0.6,0.8,0.4,0.0,-0.4,-0.8,0.5,0.1,-0.3,-0.7,-1.1,0.3,-0.1,-0.5,1.7,1.3,0.9,0.5,0.1,-0.3,-0.7,0.6,0.2,-0.2,-0.6,-1.0,-1.4,0.2,-0.2,-0.6,-1.0,-1.4,-0.2,-0.6,-1.0,-1.4,-1.8,-0.5,-0.9,-1.3,-1.7,-2.1,-0.8,-1.2,-1.6,-2.0,-2.4,-2.8,-3.2,-3.0,25.3,24.6,24.0,23.6,23.2,24.1,24.6,25.0,24.3,23.6,23.0,22.8,24.0,25.6,25.3,25.0,25.6,26.0,25.1,24.2,23.2,23.8,24.3,23.7,23.0,23.3,23.5,23.0,23.4,23.8,23.6,23.5,35.3,35.6,34.7,35.6,34.3,34.0];
const s45 = [0.5,0.2,-0.1,1.4,1.1,0.8,2.6,2.3,2.0,1.7,1.4,3.0,2.7,2.4,2.1,1.8,3.2,2.9,2.6,4.0,3.7,3.4,3.1,4.8,4.5,4.2,3.9,3.6,5.9,5.6,5.3,5.0,4.7,6.2,5.9,5.6,5.3,7.0,6.7,6.4,6.1,5.8,7.9,7.6,7.3,7.0,6.7,8.6,8.3,8.0,7.7,9.5,9.2,8.9,8.6,10.3,10.0,9.7,9.4,9.1,11.0,10.7,10.4,10.1,12.0,11.7,11.4,11.1,12.3,12.0,11.8,11.5,25.3,24.7,24.1,23.6,23.1,30.8,30.0,28.9,30.6,33.8,32.8,31.8,31.5,31.2,30.9,30.6,30.3,31.0,30.5,29.9,29.4,29.1,29.0,34.0];
const s46 = [-0.5,-0.8,0.6,0.3,0.0,-0.3,1.8,1.5,1.2,0.9,0.6,2.4,2.1,1.8,1.5,1.2,0.9,3.1,2.8,2.5,2.2,1.9,3.6,3.3,3.0,2.7,2.4,4.4,4.1,3.8,3.5,3.2,2.9,5.5,5.2,4.9,7.0,6.7,6.4,6.1,8.3,8.0,7.7,7.4,7.1,9.4,9.1,8.8,8.5,8.2,10.5,10.2,9.9,9.6,9.3,9.0,10.8,10.5,10.2,9.9,9.6,9.3,9.0,8.7,8.4,10.6,10.3,10.0,12.2,11.9,11.6,11.3,13.5,13.2,12.9,12.6,14.8,14.5,14.2,13.9,15.6,15.3,15.0,14.7,14.4,14.9,17.6,24.0,23.9,24.0,23.9,24.0,29.8,30.6,31.9,30.6];
const s47 = [0.0,-0.3,1.0,0.7,2.4,2.1,1.8,3.5,3.2,2.9,4.6,4.3,4.0,6.2,5.9,5.6,7.5,7.2,6.9,8.9,8.6,8.3,10.2,9.9,12.0,11.7,11.4,14.1,13.8,13.5,13.2,14.9,14.6,14.3,16.2,15.9,15.6,15.3,17.5,18.0,17.6,17.1,16.6,16.1,18.0,17.6,17.2,16.7,16.1,15.6,15.2,14.8,14.4,14.9,16.3,24.9,23.7,24.5,24.0,23.4,22.8,22.2,21.6,21.0,20.4,19.9,19.4,18.9,18.4,17.9,17.4,16.9,16.4,15.9,15.4,14.9,14.4,13.9,13.4,12.9,14.8,14.3,13.8,13.3,12.8,13.5,13.0,12.5,12.0,11.5,11.1,10.8,10.5,10.2,10.0,20.0];
const s48 = [0.5,0.0,2.8,2.3,1.8,1.3,0.8,3.9,3.4,2.9,2.4,1.9,5.2,4.7,4.2,3.7,3.2,2.7,6.1,5.6,5.1,4.6,4.1,3.6,3.1,6.8,6.3,5.8,5.3,4.8,4.3,3.8,7.2,6.7,6.2,5.7,5.2,4.7,4.2,7.9,7.4,6.9,6.4,5.9,5.4,4.9,4.4,3.9,7.1,6.6,6.1,5.6,5.1,4.6,4.1,3.6,3.1,6.5,6.0,5.5,5.0,4.5,4.0,3.5,3.0,2.5,5.9,5.4,4.9,4.4,3.9,3.4,2.9,2.4,1.9,5.6,5.1,4.6,4.1,3.6,3.1,2.6,6.2,5.7,5.2,4.7,4.2,3.7,3.2,2.7,2.2,1.7,4.9,4.4,3.9,3.4];
const s49 = [0.0,2.1,1.6,1.1,0.6,0.1,-0.4,-0.9,2.6,2.1,1.6,1.1,0.6,0.1,3.4,2.9,2.4,1.9,1.4,0.9,0.4,-0.1,-0.6,2.8,2.3,1.8,1.3,0.8,0.3,-0.2,-0.7,-1.2,2.5,2.0,1.5,1.0,0.5,0.0,-0.5,4.1,3.6,3.1,2.6,2.1,1.6,1.1,0.6,0.1,-0.4,3.0,2.5,2.0,1.5,1.0,0.5,0.0,-0.5,-1.0,2.8,2.3,1.8,1.3,0.8,0.3,4.1,3.6,3.1,2.6,2.1,1.6,1.1,0.6,0.1,-0.4,3.3,2.8,2.3,1.8,1.3,0.8,0.3,-0.2,-0.7,2.9,2.4,1.9,1.4,0.9,0.4,4.0,3.5,3.0,2.5,2.0,1.5,1.0];
const s50 = [1.0,0.5,0.0,-0.5,2.5,2.0,1.5,1.0,0.5,0.0,-0.5,2.2,1.7,1.2,0.7,0.2,-0.3,-0.8,2.0,1.5,1.0,0.5,0.0,-0.5,-1.0,1.9,1.4,0.9,0.4,-0.1,-0.6,-1.1,-1.6,1.0,0.5,0.0,-0.5,-1.0,-1.5,-2.0,1.2,0.7,0.2,-0.3,-0.8,-1.3,-1.8,0.6,0.1,-0.4,-0.9,-1.4,-1.9,-2.4,0.8,0.3,-0.2,-0.7,-1.2,-1.7,-2.2,-2.7,-3.2,0.1,-0.4,-0.9,-1.4,-1.9,-2.4,-2.9,-3.4,-1.0,-1.5,-2.0,-2.5,-3.0,-3.5,-4.0,-1.2,-1.7,-2.2,-2.7,-3.2,-3.7,-4.2,-4.7,-2.0,-2.5,-3.0,-3.5,-4.0,-4.5,-5.0,-2.6,-3.1,-3.6];
const s51 = [0.5,1.8,1.3,0.8,3.2,2.7,2.2,1.7,1.2,3.8,3.3,2.8,2.3,1.8,1.3,4.5,4.0,3.5,3.0,2.5,2.0,5.1,4.6,4.1,3.6,3.1,2.6,2.1,5.4,4.9,4.4,3.9,3.4,2.9,2.4,5.9,5.4,4.9,4.4,3.9,3.4,2.9,6.4,5.9,5.4,4.9,4.4,3.9,3.4,2.9,2.4,6.0,5.5,5.0,4.5,4.0,3.5,3.0,6.6,6.1,5.6,5.1,4.6,4.1,3.6,3.1,2.6,5.9,5.4,4.9,4.4,3.9,3.4,6.8,6.3,5.8,5.3,4.8,4.3,3.8,3.3,2.8,5.7,5.2,4.7,4.2,3.7,3.2,6.1,5.6,5.1,4.6,4.1,3.6,3.1,2.6];
const s52 = [-0.5,-1.0,-1.5,0.6,0.1,-0.4,-0.9,-1.4,-1.9,0.4,-0.1,-0.6,-1.1,-1.6,-2.1,-2.6,-0.3,-0.8,-1.3,-1.8,-2.3,-2.8,-3.3,-0.5,-1.0,-1.5,-2.0,-2.5,-3.0,-3.5,-0.8,-1.3,-1.8,-2.3,-2.8,-3.3,-3.8,-1.0,-1.5,-2.0,-2.5,-3.0,-3.5,-4.0,-4.5,-1.9,-2.4,-2.9,-3.4,-3.9,-4.4,-4.9,-2.0,-2.5,-3.0,-3.5,-4.0,-4.5,-5.0,-1.8,-2.3,-2.8,-3.3,-3.8,-4.3,-4.8,-5.3,-2.4,-2.9,-3.4,-3.9,-4.4,-4.9,-5.4,-2.5,-3.0,-3.5,-4.0,-4.5,-5.0,-5.5,-2.8,-3.3,-3.8,-4.3,-4.8,-5.3,-5.8,-2.9,-3.4,-3.9,-4.4,-4.9,-5.4,-5.9,-6.4];
const s53 = [1.0,0.5,0.0,2.6,2.1,1.6,4.4,3.9,3.4,2.9,2.4,5.3,4.8,4.3,3.8,3.3,6.1,5.6,5.1,4.6,4.1,7.2,6.7,6.2,5.7,5.2,4.7,7.8,7.3,6.8,6.3,5.8,8.9,8.4,7.9,7.4,6.9,6.4,9.5,9.0,8.5,8.0,7.5,7.0,6.5,9.8,9.3,8.8,8.3,7.8,7.3,6.8,9.9,9.4,8.9,8.4,7.9,7.4,10.6,10.1,9.6,9.1,8.6,8.1,7.6,7.1,10.3,9.8,9.3,8.8,8.3,7.8,7.3,10.5,10.0,9.5,9.0,8.5,8.0,7.5,7.0,6.5,9.6,9.1,8.6,8.1,7.6,7.1,10.2,9.7,9.2,8.7,8.2,7.7,7.2,6.7];
const s54 = [0.0,-0.5,-1.0,-1.5,-2.0,0.5,0.0,-0.5,-1.0,-1.5,-2.0,-2.5,-3.0,-3.5,-0.6,-1.1,-1.6,-2.1,-2.6,-3.1,-3.6,-4.1,-4.6,-1.7,-2.2,-2.7,-3.2,-3.7,-4.2,-4.7,-5.2,-5.7,-2.4,-2.9,-3.4,-3.9,-4.4,-4.9,-5.4,-5.9,-6.4,-3.0,-3.5,-4.0,-4.5,-5.0,-5.5,-6.0,-6.5,-7.0,-3.4,-3.9,-4.4,-4.9,-5.4,-5.9,-6.4,-6.9,-7.4,-4.0,-4.5,-5.0,-5.5,-6.0,-6.5,-7.0,-7.5,-8.0,-4.6,-5.1,-5.6,-6.1,-6.6,-7.1,-7.6,-8.1,-8.6,-5.0,-5.5,-6.0,-6.5,-7.0,-7.5,-8.0,-8.5,-9.0,-5.2,-5.7,-6.2,-6.7,-7.2,-7.7,-8.2,-8.7,-9.2,-9.7];
const s55 = [1.5,1.0,0.5,3.1,2.6,2.1,1.6,1.1,4.0,3.5,3.0,2.5,2.0,1.5,4.7,4.2,3.7,3.2,2.7,2.2,5.6,5.1,4.6,4.1,3.6,3.1,2.6,6.0,5.5,5.0,4.5,4.0,3.5,6.8,6.3,5.8,5.3,4.8,4.3,3.8,3.3,7.0,6.5,6.0,5.5,5.0,4.5,4.0,7.4,6.9,6.4,5.9,5.4,4.9,4.4,3.9,3.4,7.1,6.6,6.1,5.6,5.1,4.6,4.1,3.6,3.1,6.5,6.0,5.5,5.0,4.5,4.0,7.8,7.3,6.8,6.3,5.8,5.3,4.8,4.3,3.8,3.3,6.9,6.4,5.9,5.4,4.9,4.4,3.9,7.4,6.9,6.4,5.9,5.4,4.9,4.4];
const s56 = [0.0,-0.5,1.9,1.4,0.9,0.4,-0.1,-0.6,2.0,1.5,1.0,0.5,0.0,-0.5,-1.0,1.8,1.3,0.8,0.3,-0.2,-0.7,-1.2,1.5,1.0,0.5,0.0,-0.5,-1.0,-1.5,-2.0,0.9,0.4,-0.1,-0.6,-1.1,-1.6,-2.1,1.0,0.5,0.0,-0.5,-1.0,-1.5,-2.0,-2.5,-3.0,0.2,-0.3,-0.8,-1.3,-1.8,-2.3,-2.8,-3.3,-0.4,-0.9,-1.4,-1.9,-2.4,-2.9,-3.4,0.0,-0.5,-1.0,-1.5,-2.0,-2.5,-3.0,-3.5,-4.0,-0.6,-1.1,-1.6,-2.1,-2.6,-3.1,-3.6,-4.1,-1.0,-1.5,-2.0,-2.5,-3.0,-3.5,-4.0,-1.2,-1.7,-2.2,-2.7,-3.2,-3.7,-4.2,-1.5,-2.0,-2.5,-3.0];
const s57 = [0.5,0.0,3.2,2.7,2.2,4.9,4.4,3.9,3.4,6.5,6.0,5.5,5.0,4.5,7.8,7.3,6.8,6.3,5.8,9.0,8.5,8.0,7.5,7.0,10.4,9.9,9.4,8.9,8.4,7.9,11.2,10.7,10.2,9.7,9.2,8.7,11.9,11.4,10.9,10.4,9.9,9.4,12.6,12.1,11.6,11.1,10.6,10.1,13.4,12.9,12.4,11.9,11.4,10.9,10.4,13.6,13.1,12.6,12.1,11.6,11.1,10.6,13.8,13.3,12.8,12.3,11.8,11.3,10.8,14.0,13.5,13.0,12.5,12.0,11.5,11.0,10.5,10.0,13.1,12.6,12.1,11.6,11.1,10.6,10.1,9.6,9.1,12.4,11.9,11.4,10.9,10.4,9.9,9.4,8.9,8.4];
const s58 = [0.0,-0.5,-1.0,1.1,0.6,0.1,-0.4,-0.9,1.5,1.0,0.5,0.0,-0.5,-1.0,2.0,1.5,1.0,0.5,0.0,-0.5,-1.0,1.8,1.3,0.8,0.3,-0.2,-0.7,-1.2,1.6,1.1,0.6,0.1,-0.4,-0.9,-1.4,2.0,1.5,1.0,0.5,0.0,-0.5,-1.0,2.4,1.9,1.4,0.9,0.4,-0.1,-0.6,-1.1,-1.6,1.3,0.8,0.3,-0.2,-0.7,-1.2,2.2,1.7,1.2,0.7,0.2,-0.3,-0.8,-1.3,-1.8,1.0,0.5,0.0,-0.5,-1.0,-1.5,1.9,1.4,0.9,0.4,-0.1,-0.6,-1.1,-1.6,-2.1,1.2,0.7,0.2,-0.3,-0.8,-1.3,-1.8,-2.3,-2.8,0.5,0.0,-0.5,-1.0,-1.5,-2.0];
const s59 = [1.5,1.0,0.5,0.0,3.0,2.5,2.0,1.5,4.4,3.9,3.4,2.9,6.0,5.5,5.0,4.5,4.0,3.5,7.0,6.5,6.0,5.5,5.0,8.3,7.8,7.3,6.8,6.3,5.8,9.0,8.5,8.0,7.5,7.0,6.5,6.0,9.4,8.9,8.4,7.9,7.4,6.9,10.3,9.8,9.3,8.8,8.3,7.8,7.3,10.7,10.2,9.7,9.2,8.7,8.2,7.7,7.2,6.7,10.0,9.5,9.0,8.5,8.0,7.5,7.0,10.3,9.8,9.3,8.8,8.3,7.8,7.3,6.8,6.3,9.5,9.0,8.5,8.0,7.5,7.0,6.5,9.9,9.4,8.9,8.4,7.9,7.4,6.9,6.4,5.9,8.8,8.3,7.8,7.3,6.8,6.3];
const s60 = [0.0,-0.5,-1.0,-1.5,-2.0,-2.5,-0.2,-0.7,-1.2,-1.7,-2.2,-2.7,-3.2,-3.7,-4.2,-1.8,-2.3,-2.8,-3.3,-3.8,-4.3,-4.8,-5.3,-5.8,-3.0,-3.5,-4.0,-4.5,-5.0,-5.5,-6.0,-6.5,-7.0,-4.2,-4.7,-5.2,-5.7,-6.2,-6.7,-7.2,-7.7,-8.2,-5.0,-5.5,-6.0,-6.5,-7.0,-7.5,-8.0,-8.5,-9.0,-5.8,-6.3,-6.8,-7.3,-7.8,-8.3,-8.8,-9.3,-9.8,-6.5,-7.0,-7.5,-8.0,-8.5,-9.0,-9.5,-10.0,-10.5,-7.2,-7.7,-8.2,-8.7,-9.2,-9.7,-10.2,-10.7,-11.2,-8.0,-8.5,-9.0,-9.5,-10.0,-10.5,-11.0,-11.5,-12.0,-8.6,-9.1,-9.6,-10.1,-10.6,-11.1,-11.6,-12.1,-12.6];
const s61 = [0.0,2.2,1.7,1.2,0.7,3.3,2.8,2.3,1.8,1.3,4.0,3.5,3.0,2.5,2.0,5.1,4.6,4.1,3.6,3.1,6.0,5.5,5.0,4.5,4.0,3.5,6.8,6.3,5.8,5.3,4.8,4.3,7.4,6.9,6.4,5.9,5.4,4.9,8.0,7.5,7.0,6.5,6.0,5.5,5.0,8.3,7.8,7.3,6.8,6.3,5.8,5.3,8.4,7.9,7.4,6.9,6.4,5.9,9.1,8.6,8.1,7.6,7.1,6.6,6.1,5.6,8.7,8.2,7.7,7.2,6.7,6.2,5.7,8.8,8.3,7.8,7.3,6.8,6.3,5.8,5.3,4.8,7.9,7.4,6.9,6.4,5.9,5.4,4.9,4.4,7.4,6.9,6.4,5.9,5.4,4.9];

const RED = "#ff0000", GREEN = "#00a000", BLUE = "#0000cc", MAGENTA = "#ff50ff",
      CYAN = "#40ffff", DARKRED = "#a00000", YELLOW = "#ffff00", LIGHTBLUE = "#5a5aff", BLACK = "#000000";

const seriesList = [s01,s02,s03,s04,s05,s06,s07,s08,s09,s10,s11,s12,s13,s14,s15,s16,s17,s18,s19,s20,s21,s22,s23,s24,s25,s26,s27,s28,s29,s30,
  s48,s49,s50,s51,s52,s53,s54,s55,s56,s57,s58,s59,s60,s61,
  s31,s32,s33,s34,s35,s36,s37,s38,s39,s40,s41,s42,s43,s44,s45,s46,s47];
const seriesColors = [BLUE,RED,GREEN,MAGENTA,BLUE,CYAN,YELLOW,LIGHTBLUE,DARKRED,BLACK,RED,GREEN,BLUE,MAGENTA,CYAN,YELLOW,LIGHTBLUE,DARKRED,BLUE,RED,GREEN,MAGENTA,CYAN,YELLOW,BLUE,RED,DARKRED,BLUE,CYAN,MAGENTA,
  BLUE,RED,GREEN,MAGENTA,CYAN,DARKRED,BLUE,YELLOW,LIGHTBLUE,RED,BLACK,GREEN,MAGENTA,CYAN,
  DARKRED,BLUE,GREEN,MAGENTA,CYAN,DARKRED,RED,RED,YELLOW,GREEN,BLUE,DARKRED,RED,CYAN,YELLOW,LIGHTBLUE,BLUE];

const FONT = "'DejaVu Sans Mono','Liberation Mono',monospace";
const svg = d3.select("#chart");
svg.append("rect").attr("width",640).attr("height",480).attr("fill","#fff");

const x = d3.scaleLinear().domain([0, 23.75]).range([51, 620]);
const y = d3.scaleLinear().domain([-30, 50]).range([446, 32]);

const line = d3.line().x((d, i) => x(hours[i]) + 0.5).y(d => y(d) + 0.5);
const lines = svg.append("g");
seriesList.forEach((vals, k) => {
  lines.append("path")
    .attr("d", line(vals))
    .attr("fill", "none")
    .attr("stroke", seriesColors[k])
    .attr("stroke-width", 1)
    .attr("shape-rendering", "crispEdges");
});

const fmt = d => String(d);
function styleAxis(g) {
  g.attr("font-family", FONT).attr("font-size", 11.5);
  g.select(".domain").remove();
  g.selectAll("line").attr("stroke", "#000").attr("shape-rendering", "crispEdges");
  g.selectAll("text").attr("fill", "#000");
}
svg.append("g").attr("transform", "translate(0,446)")
  .call(d3.axisBottom(x).tickValues(xTicks).tickSizeInner(-5).tickSizeOuter(0).tickPadding(8).tickFormat(fmt))
  .call(styleAxis);
svg.append("g").attr("transform", "translate(0,32)")
  .call(d3.axisTop(x).tickValues(xTicks).tickSizeInner(-5).tickSizeOuter(0).tickFormat(() => ""))
  .call(styleAxis);
svg.append("g").attr("transform", "translate(51,0)")
  .call(d3.axisLeft(y).tickValues(yTicks).tickSizeInner(-5).tickSizeOuter(0).tickPadding(8).tickFormat(fmt))
  .call(styleAxis);
svg.append("g").attr("transform", "translate(620,0)")
  .call(d3.axisRight(y).tickValues(yTicks).tickSizeInner(-5).tickSizeOuter(0).tickFormat(() => ""))
  .call(styleAxis);

svg.append("rect").attr("x", 51.5).attr("y", 32.5).attr("width", 569).attr("height", 414)
  .attr("fill", "none").attr("stroke", "#000").attr("stroke-width", 1).attr("shape-rendering", "crispEdges");

svg.append("text").attr("x", 336).attr("y", 19).attr("text-anchor", "middle")
  .attr("font-family", FONT).attr("font-size", 11.5).attr("fill", "#000").text(chartTitle);
svg.append("text").attr("x", 336).attr("y", 476).attr("text-anchor", "middle")
  .attr("font-family", FONT).attr("font-size", 11.5).attr("fill", "#000").text(xLabel);
svg.append("text").attr("transform", "translate(14,240) rotate(-90)").attr("text-anchor", "middle")
  .attr("font-family", FONT).attr("font-size", 11.5).attr("fill", "#000").text(yLabel);
</script>
</body></html>
